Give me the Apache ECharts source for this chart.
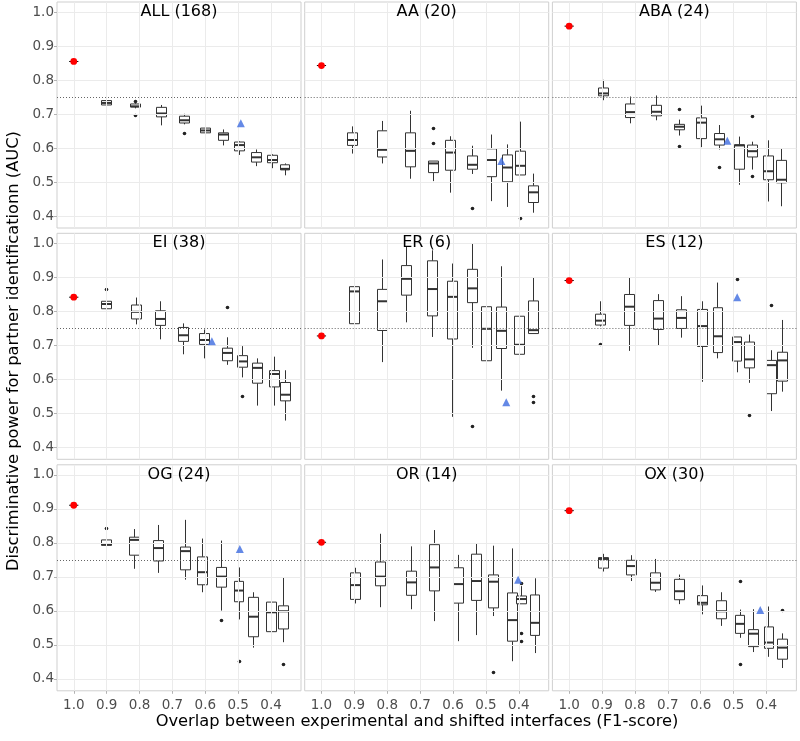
<!DOCTYPE html>
<html><head><meta charset="utf-8">
<script src="https://cdn.jsdelivr.net/npm/echarts@6/dist/echarts.min.js"></script>
<style>html,body{margin:0;padding:0;background:#fff}#c{width:800px;height:741px}</style>
</head><body><div id="c"></div>
<script>
const panelTitles = ['ALL (168)','AA (20)','ABA (24)','EI (38)','ER (6)','ES (12)','OG (24)','OR (14)','OX (30)'];
const xTicks = [1.0,0.9,0.8,0.7,0.6,0.5,0.4];
const yTicks = [0.4,0.5,0.6,0.7,0.8,0.9,1.0];
const threshold = 0.75;
const xTitle = 'Overlap between experimental and shifted interfaces (F1-score)';
const yTitle = 'Discriminative power for partner identificationn (AUC)';

// reference (unshifted) AUC, shown in red at F1 = 1.0
const redF1 = 1.0;
const redF1Err = [0.986, 1.014];
const redAUC = [0.855,0.843,0.959,0.842,0.728,0.891,0.911,0.802,0.895];
// blue triangles
const blueF1  = [0.492,0.453,0.519,0.580,0.438,0.489,0.495,0.402,0.419];
const blueAUC = [0.673,0.562,0.622,0.712,0.533,0.842,0.782,0.692,0.603];

// boxes: [F1, min, q1, median, q3, max]
const boxALL = [[0.901,0.721,0.727,0.733,0.740,0.748],[0.815,0.717,0.721,0.723,0.730,0.732],[0.736,0.667,0.692,0.702,0.720,0.727],[0.665,0.670,0.674,0.682,0.694,0.701],[0.602,0.642,0.645,0.652,0.659,0.671],[0.545,0.608,0.623,0.640,0.645,0.655],[0.497,0.580,0.592,0.609,0.618,0.620],[0.445,0.547,0.559,0.573,0.587,0.596],[0.397,0.541,0.557,0.565,0.579,0.582],[0.359,0.520,0.536,0.539,0.551,0.555]];
const boxAA = [[0.906,0.584,0.608,0.624,0.645,0.664],[0.817,0.555,0.574,0.595,0.651,0.680],[0.730,0.510,0.545,0.592,0.645,0.710],[0.661,0.503,0.528,0.555,0.562,0.562],[0.608,0.469,0.535,0.587,0.623,0.635],[0.543,0.524,0.538,0.551,0.577,0.607],[0.484,0.444,0.516,0.565,0.598,0.640],[0.435,0.427,0.501,0.543,0.580,0.611],[0.397,0.521,0.521,0.548,0.591,0.678],[0.356,0.410,0.440,0.470,0.489,0.525]];
const boxABA = [[0.897,0.741,0.754,0.761,0.777,0.801],[0.816,0.673,0.690,0.706,0.730,0.752],[0.735,0.682,0.695,0.707,0.726,0.755],[0.667,0.637,0.654,0.663,0.670,0.684],[0.600,0.603,0.628,0.675,0.689,0.725],[0.545,0.596,0.609,0.626,0.643,0.668],[0.483,0.492,0.538,0.608,0.610,0.634],[0.445,0.537,0.574,0.591,0.609,0.619],[0.396,0.443,0.507,0.532,0.577,0.623],[0.355,0.429,0.498,0.507,0.564,0.599]];
const boxEI = [[0.901,0.795,0.808,0.822,0.830,0.838],[0.810,0.762,0.778,0.799,0.819,0.841],[0.738,0.718,0.759,0.778,0.802,0.830],[0.667,0.674,0.712,0.730,0.753,0.765],[0.605,0.662,0.703,0.716,0.735,0.747],[0.534,0.643,0.655,0.678,0.692,0.724],[0.488,0.606,0.636,0.653,0.670,0.698],[0.442,0.523,0.589,0.634,0.648,0.662],[0.392,0.523,0.578,0.616,0.626,0.667],[0.358,0.479,0.537,0.555,0.591,0.627]];
const boxER = [[0.902,0.674,0.764,0.859,0.873,0.919],[0.815,0.651,0.744,0.830,0.865,0.953],[0.743,0.768,0.848,0.896,0.935,0.990],[0.664,0.725,0.787,0.866,0.949,0.980],[0.604,0.490,0.719,0.843,0.889,0.941],[0.543,0.693,0.826,0.868,0.924,1.000],[0.499,0.596,0.655,0.749,0.814,0.922],[0.453,0.567,0.691,0.743,0.813,0.933],[0.399,0.584,0.674,0.702,0.786,0.914],[0.358,0.735,0.735,0.745,0.831,0.900]];
const boxES = [[0.907,0.756,0.760,0.773,0.792,0.830],[0.818,0.684,0.759,0.814,0.850,0.900],[0.730,0.701,0.747,0.779,0.832,0.851],[0.659,0.723,0.750,0.781,0.805,0.845],[0.597,0.593,0.697,0.757,0.806,0.830],[0.549,0.662,0.679,0.727,0.811,0.885],[0.491,0.621,0.654,0.710,0.725,0.725],[0.453,0.590,0.634,0.659,0.710,0.732],[0.386,0.507,0.558,0.642,0.656,0.686],[0.353,0.564,0.595,0.656,0.680,0.775]];
const boxOG = [[0.901,0.788,0.793,0.796,0.809,0.817],[0.816,0.724,0.764,0.809,0.817,0.841],[0.745,0.712,0.747,0.785,0.807,0.853],[0.662,0.692,0.721,0.776,0.788,0.868],[0.611,0.655,0.677,0.714,0.759,0.813],[0.553,0.601,0.670,0.701,0.728,0.807],[0.499,0.575,0.627,0.660,0.687,0.728],[0.454,0.492,0.524,0.583,0.640,0.655],[0.401,0.484,0.539,0.596,0.626,0.673],[0.364,0.508,0.547,0.599,0.615,0.698]];
const boxOR = [[0.899,0.622,0.634,0.676,0.712,0.727],[0.821,0.611,0.674,0.701,0.744,0.827],[0.729,0.605,0.646,0.684,0.717,0.790],[0.659,0.570,0.659,0.728,0.795,0.838],[0.585,0.511,0.623,0.679,0.727,0.765],[0.530,0.529,0.631,0.688,0.767,0.799],[0.479,0.585,0.609,0.686,0.706,0.792],[0.421,0.452,0.511,0.573,0.653,0.784],[0.392,0.621,0.621,0.635,0.644,0.673],[0.352,0.476,0.528,0.565,0.647,0.696]];
const boxOX = [[0.897,0.716,0.726,0.753,0.757,0.768],[0.812,0.688,0.706,0.732,0.749,0.764],[0.738,0.656,0.662,0.683,0.712,0.753],[0.667,0.620,0.633,0.658,0.693,0.707],[0.595,0.590,0.618,0.624,0.645,0.675],[0.538,0.556,0.577,0.599,0.630,0.655],[0.482,0.521,0.534,0.562,0.587,0.604],[0.440,0.479,0.495,0.533,0.545,0.605],[0.394,0.465,0.490,0.507,0.553,0.613],[0.353,0.432,0.458,0.492,0.517,0.534]];

// outliers: [F1, AUC]
const outALL = [[0.815,0.738],[0.815,0.697],[0.665,0.646]];
const outAA  = [[0.661,0.658],[0.661,0.616],[0.543,0.423],[0.397,0.394]];
const outABA = [[0.667,0.716],[0.667,0.606],[0.545,0.545],[0.445,0.696],[0.445,0.519]];
const outEI  = [[0.901,0.867],[0.534,0.812],[0.488,0.552]];
const outER  = [[0.543,0.462],[0.358,0.552],[0.358,0.533]];
const outES  = [[0.907,0.705],[0.491,0.895],[0.453,0.494],[0.386,0.819]];
const outOG  = [[0.901,0.845],[0.553,0.573],[0.499,0.453],[0.364,0.443]];
const outOR  = [[0.479,0.420],[0.392,0.681],[0.392,0.535],[0.392,0.512]];
const outOX  = [[0.482,0.689],[0.482,0.443],[0.353,0.604]];

const boxSets = [boxALL,boxAA,boxABA,boxEI,boxER,boxES,boxOG,boxOR,boxOX];
const outSets = [outALL,outAA,outABA,outEI,outER,outES,outOG,outOR,outOX];

// ---------- layout / style ----------
const FONT = 'DejaVu Sans';
const colLeft = [57, 304.7, 552.4], rowTop = [2, 233.3, 464.8];
const PW = 244, PH = 226;
const X_MIN = 0.309, X_MAX = 1.051, Y_MIN = 0.365, Y_MAX = 1.030;
const BOX_W = 0.030;
const LINE = '#333333';

function boxRender(params, api) {
  const x = api.value(0);
  const pLo = api.coord([x, api.value(1)]);
  const pQ1 = api.coord([x, api.value(2)]);
  const pMd = api.coord([x, api.value(3)]);
  const pQ3 = api.coord([x, api.value(4)]);
  const pHi = api.coord([x, api.value(5)]);
  const hw = api.size([BOX_W, 0])[0] / 2;
  const cx = Math.round(pMd[0]) + 0.5;
  const l = Math.round(pMd[0] - hw) + 0.5, r = Math.round(pMd[0] + hw) + 0.5;
  return {
    type: 'group',
    children: [
      {type: 'line', shape: {x1: cx, y1: pHi[1], x2: cx, y2: pQ3[1]}, style: {stroke: LINE, lineWidth: 1}},
      {type: 'line', shape: {x1: cx, y1: pQ1[1], x2: cx, y2: pLo[1]}, style: {stroke: LINE, lineWidth: 1}},
      {type: 'rect', shape: {x: l, y: pQ3[1], width: r - l, height: pQ1[1] - pQ3[1]}, style: {fill: '#fff', stroke: LINE, lineWidth: 1}},
      {type: 'line', shape: {x1: l, y1: pMd[1], x2: r, y2: pMd[1]}, style: {stroke: LINE, lineWidth: 2}}
    ]
  };
}
function redRender(params, api) {
  const y = api.value(1);
  const p = api.coord([api.value(0), y]);
  const a = api.coord([api.value(2), y]);
  const b = api.coord([api.value(3), y]);
  return {
    type: 'group',
    children: [
      {type: 'line', shape: {x1: a[0], y1: p[1], x2: b[0], y2: p[1]}, style: {stroke: '#000', lineWidth: 1}},
      {type: 'circle', shape: {cx: p[0], cy: p[1], r: 3.4}, style: {fill: '#ff0000'}}
    ]
  };
}
function dotRender(params, api) {
  const p = api.coord([api.value(0), api.value(1)]);
  return {type: 'circle', shape: {cx: Math.round(p[0]) + 0.5, cy: Math.round(p[1]) + 0.5, r: 1.8}, style: {fill: '#222'}};
}

const grid = [], xAxis = [], yAxis = [], series = [], graphic = [];
for (let i = 0; i < 9; i++) {
  const r = Math.floor(i / 3), c = i % 3;
  grid.push({left: colLeft[c], top: rowTop[r], width: PW, height: PH, show: true,
    backgroundColor: '#fff', borderColor: '#cfcfcf', borderWidth: 1});
  xAxis.push({type: 'value', gridIndex: i, inverse: true, min: X_MIN, max: X_MAX,
    axisLine: {show: false}, splitLine: {show: false},
    axisTick: {show: r === 2, customValues: xTicks, length: 3, lineStyle: {color: '#b3b3b3'}},
    axisLabel: {show: r === 2, customValues: xTicks, margin: 8, formatter: v => v.toFixed(1),
      color: '#4d4d4d', fontSize: 13.5, fontFamily: FONT}});
  yAxis.push({type: 'value', gridIndex: i, min: Y_MIN, max: Y_MAX,
    axisLine: {show: false}, splitLine: {show: false},
    axisTick: {show: c === 0, customValues: yTicks, length: 3, lineStyle: {color: '#b3b3b3'}},
    axisLabel: {show: c === 0, customValues: yTicks, margin: 3, formatter: v => v.toFixed(1),
      color: '#4d4d4d', fontSize: 13.5, fontFamily: FONT}});
  series.push({type: 'scatter', xAxisIndex: i, yAxisIndex: i, data: [], silent: true, z: 1,
    markLine: {silent: true, symbol: 'none', animation: false, label: {show: false},
      lineStyle: {color: '#ebebeb', width: 1, type: 'solid'},
      data: xTicks.map(v => ({xAxis: v})).concat(yTicks.map(v => ({yAxis: v}))).concat([
        {yAxis: threshold, lineStyle: {color: '#666', width: 1, type: [1, 2]}}])}});
  series.push({type: 'custom', xAxisIndex: i, yAxisIndex: i, z: 3, silent: true,
    renderItem: boxRender, data: boxSets[i], encode: {x: 0, y: [1, 2, 3, 4, 5]}});
  series.push({type: 'custom', xAxisIndex: i, yAxisIndex: i, z: 4, silent: true,
    renderItem: dotRender, data: outSets[i], encode: {x: 0, y: 1}});
  series.push({type: 'scatter', xAxisIndex: i, yAxisIndex: i, z: 5, silent: true,
    data: [[blueF1[i], blueAUC[i]]], symbol: 'triangle', symbolSize: 8, itemStyle: {color: '#3d6be0'}});
  series.push({type: 'custom', xAxisIndex: i, yAxisIndex: i, z: 5, silent: true,
    renderItem: redRender, data: [[redF1, redAUC[i], redF1Err[0], redF1Err[1]]], encode: {x: 0, y: 1}});
  graphic.push({type: 'text', x: colLeft[c] + PW / 2, y: rowTop[r] + 10, z: 100,
    style: {text: panelTitles[i], fill: '#000', fontSize: 16, fontFamily: FONT,
      align: 'center', verticalAlign: 'middle', textAlign: 'center', textVerticalAlign: 'middle'}});
}
graphic.push({type: 'text', x: 417, y: 722, z: 100,
  style: {text: xTitle, fill: '#000', fontSize: 16.3, fontFamily: FONT,
    align: 'center', verticalAlign: 'middle', textAlign: 'center', textVerticalAlign: 'middle'}});
graphic.push({type: 'text', x: 14, y: 351, rotation: Math.PI / 2, z: 100,
  style: {text: yTitle, fill: '#000', fontSize: 16.3, fontFamily: FONT,
    align: 'center', verticalAlign: 'middle', textAlign: 'center', textVerticalAlign: 'middle'}});

const chart = echarts.init(document.getElementById('c'), null, {renderer: 'canvas'});
chart.setOption({animation: false, backgroundColor: '#fff', grid, xAxis, yAxis, series, graphic});
</script></body></html>
